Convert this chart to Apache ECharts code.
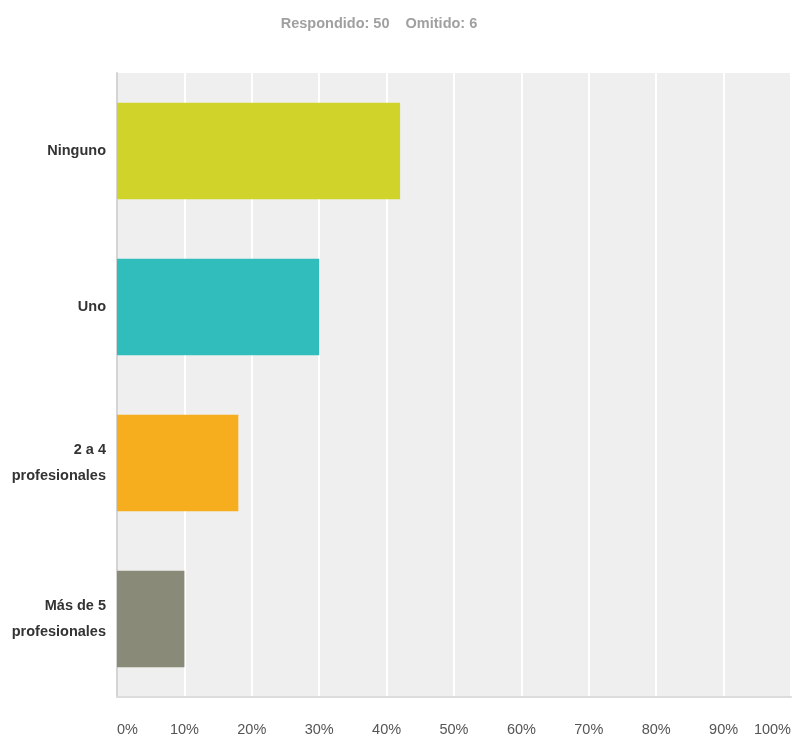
<!DOCTYPE html>
<html>
<head>
<meta charset="utf-8">
<script src="https://cdn.jsdelivr.net/npm/echarts@6/dist/echarts.min.js"></script>
<style>
  html, body { margin: 0; padding: 0; background: #ffffff; }
  #chart { width: 794px; height: 740px; }
</style>
</head>
<body>
<div id="chart"></div>
<script>
// Survey answers (percent of 50 respondents)
const categories = ['Ninguno', 'Uno', '2 a 4\nprofesionales', 'Más de 5\nprofesionales'];
const percentages = [42, 30, 18, 10];
const barColors = ['#d0d42a', '#32bdbd', '#f7ae1e', '#8a8a78'];
const tickValues = [0, 10, 20, 30, 40, 50, 60, 70, 80, 90, 100];
const subtitleText = 'Respondido: 50    Omitido: 6';

const FONT = '"Liberation Sans", Arial, sans-serif';

const chart = echarts.init(document.getElementById('chart'));

chart.setOption({
  animation: false,
  backgroundColor: '#ffffff',
  title: {
    text: subtitleText,
    left: 374,
    textAlign: 'center',
    top: 11,
    textStyle: {
      fontFamily: FONT,
      fontSize: 14.5,
      fontWeight: 'bold',
      color: '#a0a0a0'
    }
  },
  grid: {
    left: 117,
    right: 3,
    top: 73,
    bottom: 43,
    outerBoundsMode: 'none',
    show: true,
    backgroundColor: '#efefef',
    borderWidth: 0
  },
  xAxis: {
    type: 'value',
    min: 0,
    max: 100,
    interval: 10,
    axisLine: { show: true, lineStyle: { color: '#dcdcdc', width: 2 } },
    axisTick: { show: false },
    splitLine: { show: true, lineStyle: { color: '#ffffff', width: 2 } },
    axisLabel: {
      margin: 25,
      color: '#555555',
      fontFamily: FONT,
      fontSize: 14.5,
      alignMinLabel: 'left',
      alignMaxLabel: 'right',
      formatter: function (v) { return tickValues.indexOf(v) >= 0 ? v + '%' : ''; }
    }
  },
  yAxis: {
    type: 'category',
    inverse: true,
    data: categories,
    axisLine: { show: true, lineStyle: { color: '#d4d4d4', width: 2 } },
    axisTick: { show: false },
    splitLine: { show: false },
    axisLabel: {
      margin: 11,
      color: '#333333',
      fontFamily: FONT,
      fontSize: 14.5,
      fontWeight: 'bold',
      lineHeight: 26,
      align: 'right'
    }
  },
  series: [{
    type: 'bar',
    data: percentages.map((v, i) => ({ value: v, itemStyle: { color: barColors[i] } })),
    barCategoryGap: '38%',
    silent: true
  }]
});
</script>
</body>
</html>
